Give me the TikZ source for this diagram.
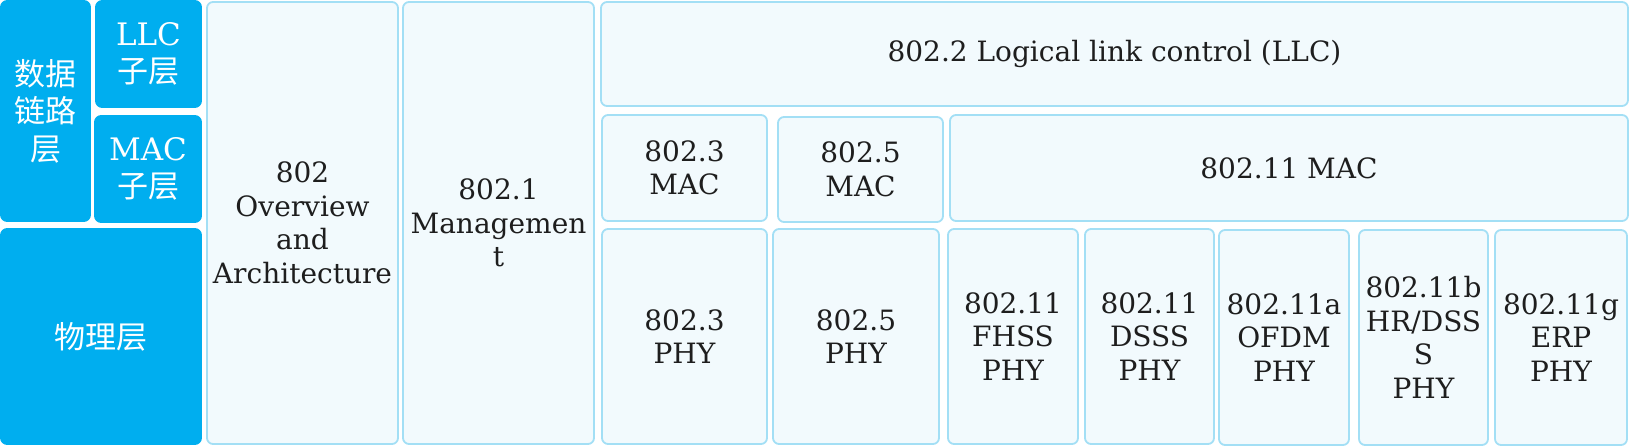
\documentclass[tikz,border=0pt]{standalone}
\usepackage{fontspec}
\setmainfont{DejaVu Serif}
\newfontfamily\cjk{Noto Sans CJK SC}
\definecolor{layerblue}{HTML}{00AEEF}
\definecolor{boxline}{HTML}{A3DFF5}
\definecolor{boxfill}{HTML}{F2FAFD}
\definecolor{ink}{HTML}{1E1E1E}
\tikzset{
  base/.style={rectangle, rounded corners=6pt, line width=1.8pt, align=center, inner sep=0pt, outer sep=0pt, anchor=north west,
    font=\fontsize{28}{33.6}\selectfont},
  layer/.style={base, draw=layerblue, fill=layerblue, text=white, font=\fontsize{31}{37.5}\selectfont},
  std/.style={base, draw=boxline, fill=boxfill, text=ink},
}
\newcommand{\bx}[7]{\node[#6, minimum width=#4pt-#2pt, minimum height=#5pt-#3pt] (#1) at (#2,#3) {#7};}
\begin{document}
\begin{tikzpicture}[x=1pt,y=-1pt]
\useasboundingbox (0,0) rectangle (1630,446);
\bx{dl}{1}{1}{90}{221}{layer}{\cjk 数据\\\cjk 链路\\\cjk 层}
\bx{llcsub}{96}{1}{201}{107}{layer}{LLC\\\cjk 子层}
\bx{macsub}{95}{116}{201}{222}{layer}{MAC\\\cjk 子层}
\bx{phl}{1}{229}{201}{444}{layer}{\cjk 物理层}
\bx{ov}{207}{2}{398}{444}{std}{802\\Overview\\and\\Architecture}
\bx{mgmt}{403}{2}{594}{444}{std}{802.1\\Managemen\\t}
\bx{llc}{601}{2}{1628}{106}{std}{802.2 Logical link control (LLC)}
\bx{macthree}{602}{115}{767}{221}{std}{802.3\\MAC}
\bx{macfive}{778}{117}{943}{222}{std}{802.5\\MAC}
\bx{maceleven}{950}{115}{1628}{221}{std}{802.11 MAC}
\bx{phythree}{602}{229}{767}{444}{std}{802.3\\PHY}
\bx{phyfive}{773}{229}{939}{444}{std}{802.5\\PHY}
\bx{fhss}{948}{229}{1078}{444}{std}{802.11\\FHSS\\PHY}
\bx{dsss}{1085}{229}{1214}{444}{std}{802.11\\DSSS\\PHY}
\bx{ofdm}{1219}{230}{1349}{445}{std}{802.11a\\OFDM\\PHY}
\bx{hrdsss}{1359}{230}{1488}{445}{std}{802.11b\\HR/DSS\\S\\PHY}
\bx{erp}{1495}{230}{1627}{445}{std}{802.11g\\ERP\\PHY}
\end{tikzpicture}
\end{document}
